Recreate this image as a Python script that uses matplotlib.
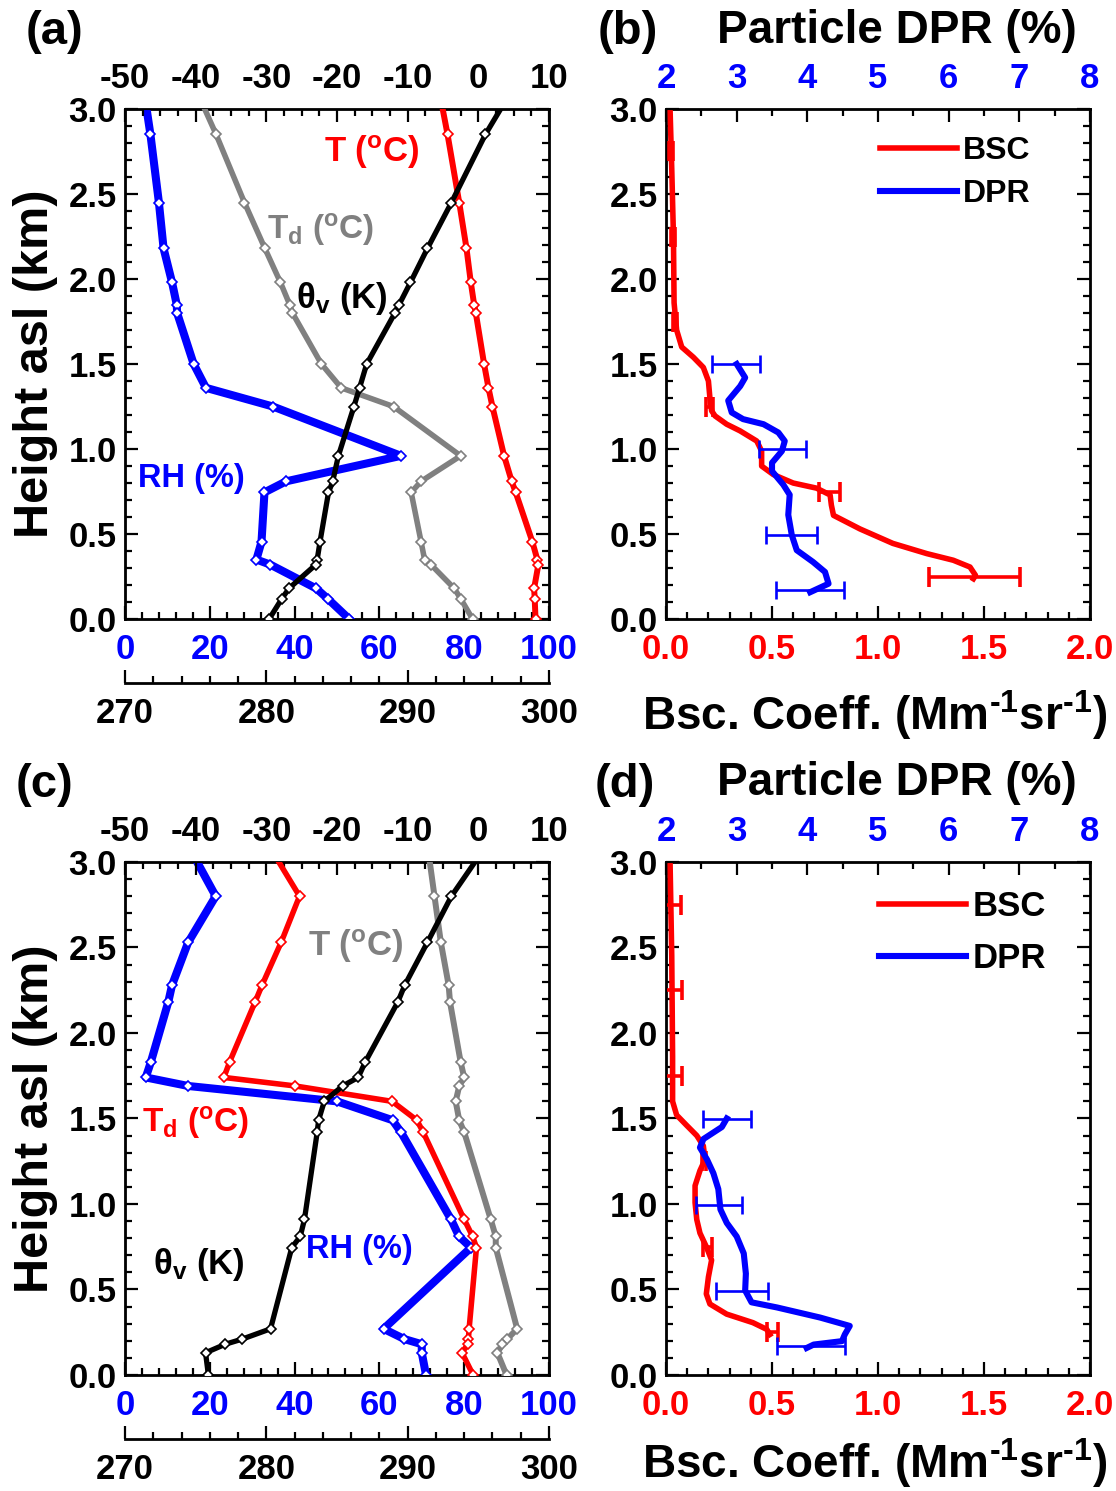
import matplotlib
matplotlib.use("Agg")
import matplotlib.pyplot as plt
from matplotlib.ticker import MultipleLocator

plt.rcParams["font.family"] = ["Liberation Sans", "DejaVu Sans"]
plt.rcParams["font.weight"] = "bold"
plt.rcParams["axes.unicode_minus"] = False
plt.rcParams["mathtext.fontset"] = "custom"
plt.rcParams["mathtext.rm"] = "Liberation Sans:bold"
plt.rcParams["mathtext.it"] = "Liberation Sans:bold:italic"
plt.rcParams["mathtext.bf"] = "Liberation Sans:bold"

RED = "#ff0000"
BLUE = "#0000ff"
GRAY = "#808080"
BLACK = "#000000"

# ---- panel (a): radiosonde profile ----
H_A = [3.1, 2.85, 2.45, 2.18, 1.98, 1.85, 1.80, 1.50, 1.36, 1.25, 0.96,
       0.81, 0.745, 0.455, 0.35, 0.32, 0.18, 0.12, 0.0]
RH_A = [4.5, 6.0, 8.0, 9.1, 11.1, 12.2, 12.3, 16.2, 19.1, 34.9, 65.1,
        38.0, 32.9, 32.2, 31.0, 34.3, 45.1, 47.8, 52.9]
TD_A = [-39.8, -37.1, -33.1, -30.2, -28.0, -26.7, -26.3, -22.2, -19.4, -12.0, -2.5,
        -8.1, -9.5, -8.1, -7.6, -6.7, -3.4, -2.5, -0.8]
T_A = [-5.5, -4.35, -2.7, -1.67, -1.06, -0.59, -0.35, 0.82, 1.44, 2.0, 3.65,
       4.73, 5.29, 7.65, 8.35, 8.5, 7.9, 7.98, 8.1]
THV_A = [297.3, 295.5, 293.1, 291.4, 290.2, 289.4, 289.1, 287.1, 286.6, 286.2, 285.1,
         284.7, 284.4, 283.8, 283.6, 283.5, 281.6, 281.1, 280.2]

# ---- panel (c): radiosonde profile ----
H_C = [3.1, 2.80, 2.53, 2.28, 2.18, 1.83, 1.74, 1.69, 1.60, 1.49, 1.42,
       0.91, 0.81, 0.745, 0.27, 0.21, 0.18, 0.13, 0.0]
RH_C = [14.8, 21.4, 14.9, 11.1, 10.2, 6.1, 4.9, 14.9, 50.0, 63.1, 65.1,
        76.9, 78.8, 81.6, 61.0, 65.9, 70.0, 70.0, 71.0]
TD_C = [-29.7, -25.3, -27.9, -30.6, -31.6, -35.2, -36.0, -25.9, -12.2, -8.7, -7.8,
        -2.0, -0.8, -0.26, -1.3, -1.4, -1.5, -2.3, -0.73]
T_C = [-7.2, -6.2, -5.3, -4.2, -4.0, -2.5, -2.0, -2.7, -3.2, -2.7, -2.0,
       1.76, 2.47, 2.47, 5.5, 4.1, 3.4, 2.7, 4.0]
THV_C = [295.6, 293.1, 291.4, 289.8, 289.3, 287.0, 286.5, 285.4, 284.1, 283.7, 283.6,
         282.7, 282.4, 281.8, 280.3, 278.3, 277.1, 275.7, 275.9]

# ---- panel (b): lidar ----
BSC_B_H = [3.0, 2.65, 2.25, 1.86, 1.70, 1.60, 1.54, 1.48, 1.40, 1.30, 1.225, 1.195,
           1.146, 1.107, 1.047, 0.988, 0.90, 0.85, 0.80, 0.77, 0.73, 0.67, 0.61,
           0.53, 0.445, 0.385, 0.346, 0.306, 0.257, 0.237]
BSC_B = [0.019, 0.027, 0.035, 0.038, 0.05, 0.074, 0.129, 0.176, 0.2, 0.207, 0.215, 0.231,
         0.286, 0.349, 0.428, 0.451, 0.451, 0.506, 0.6, 0.71, 0.774, 0.78, 0.79,
         0.915, 1.07, 1.23, 1.355, 1.434, 1.46, 1.45]
BSC_ERR_B_H = [2.75, 2.25, 1.75, 1.25, 0.75, 0.25]
BSC_ERR_B_X = [0.025, 0.034, 0.042, 0.205, 0.77, 1.457]
BSC_ERR_B = [0.01, 0.01, 0.01, 0.017, 0.05, 0.215]

DPR_B_H = [1.50, 1.42, 1.37, 1.285, 1.215, 1.176, 1.146, 1.097, 1.047, 0.988, 0.919,
           0.87, 0.79, 0.731, 0.613, 0.494, 0.405, 0.336, 0.277, 0.208, 0.158]
DPR_B = [3.0, 3.12, 3.05, 2.88, 2.93, 3.09, 3.38, 3.59, 3.68, 3.64, 3.50,
         3.50, 3.66, 3.75, 3.73, 3.78, 3.85, 4.08, 4.25, 4.30, 4.04]
DPR_ERR_B_H = [1.50, 1.0, 0.494, 0.168]
DPR_ERR_B_X = [2.99, 3.65, 3.77, 4.04]
DPR_ERR_B = [0.34, 0.33, 0.36, 0.48]

# ---- panel (d): lidar ----
BSC_D_H = [3.0, 2.45, 1.86, 1.60, 1.52, 1.46, 1.40, 1.34, 1.26, 1.195, 1.107, 1.008,
           0.909, 0.83, 0.75, 0.672, 0.573, 0.474, 0.415, 0.356, 0.306, 0.267, 0.237]
BSC_D = [0.019, 0.027, 0.031, 0.031, 0.05, 0.097, 0.145, 0.176, 0.184, 0.16, 0.137, 0.137,
         0.145, 0.16, 0.19, 0.215, 0.2, 0.19, 0.207, 0.286, 0.41, 0.475, 0.49]
BSC_ERR_D_H = [2.75, 2.25, 1.75, 1.25, 0.75, 0.25]
BSC_ERR_D_X = [0.025, 0.03, 0.03, 0.18, 0.195, 0.5]
BSC_ERR_D = [0.045, 0.045, 0.045, 0.01, 0.02, 0.026]

DPR_D_H = [1.50, 1.45, 1.38, 1.33, 1.26, 1.18, 1.087, 0.968, 0.889, 0.81, 0.711,
           0.593, 0.494, 0.425, 0.395, 0.336, 0.287, 0.237, 0.198, 0.178, 0.158]
DPR_D = [2.86, 2.79, 2.53, 2.48, 2.58, 2.67, 2.74, 2.77, 2.86, 3.0, 3.1,
         3.13, 3.12, 3.21, 3.57, 4.18, 4.60, 4.53, 4.49, 4.09, 3.99]
DPR_ERR_D_H = [1.496, 0.994, 0.494, 0.168]
DPR_ERR_D_X = [2.86, 2.75, 3.08, 4.05]
DPR_ERR_D = [0.34, 0.33, 0.37, 0.48]

TICK_FS = 25
LABEL_FS = 33


def ticks(ax, axis, major, minor, **kw):
    loc = ax.xaxis if axis == "x" else ax.yaxis
    loc.set_major_locator(MultipleLocator(major))
    loc.set_minor_locator(MultipleLocator(minor))
    ax.tick_params(axis=axis, which="major", direction="in", length=9.5,
                   width=1.6, labelsize=TICK_FS, **kw)
    ax.tick_params(axis=axis, which="minor", direction="in", length=5,
                   width=1.6, **{k: v for k, v in kw.items() if k != "pad" and "label" not in k})


def frame(ax):
    for s in ax.spines.values():
        s.set_linewidth(2.0)
    ax.set_ylim(0, 3.0)
    ticks(ax, "y", 0.5, 0.1, left=True, right=True, pad=6)
    ax.yaxis.set_major_formatter(plt.FormatStrFormatter("%.1f"))
    ax.set_ylabel("Height asl (km)", fontsize=35, fontweight="bold")
    ax.yaxis.set_label_coords(-0.158, 0.5)


def profile(ax, x, h, color, lw):
    ax.plot(x, h, color=color, lw=lw, marker="D", ms=5.5, mfc="white",
            mec=color, mew=1.2, zorder=3)


def met_panel(ax, h, rh, td, t, thv, td_color, t_color, text_pos):
    frame(ax)
    ax.set_xlim(0, 100)
    ticks(ax, "x", 20, 4, bottom=True, top=False, labelcolor=BLUE, pad=10)

    ax_t = ax.twiny()
    ax_t.set_xlim(-50, 10)
    ticks(ax_t, "x", 10, 2.5, top=True, bottom=False, pad=10)

    ax_th = ax.twiny()
    ax_th.set_xlim(270, 300)
    ax_th.xaxis.set_ticks_position("bottom")
    ax_th.spines["bottom"].set_position(("outward", 46))
    for s in ["top", "left", "right"]:
        ax_th.spines[s].set_visible(False)
    ax_th.spines["bottom"].set_linewidth(2.0)
    ticks(ax_th, "x", 10, 2, bottom=True, top=False, pad=10)

    profile(ax, rh, h, BLUE, 5.8)
    profile(ax_t, td, h, td_color, 4.0)
    profile(ax_t, t, h, t_color, 4.3)
    profile(ax_th, thv, h, BLACK, 3.8)

    labels = [
        (r"T ($^{\rm o}$C)", t_color, 25),
        (r"T$_{\rm d}$ ($^{\rm o}$C)", td_color, 24),
        (r"θ$_{\rm v}$ (K)", BLACK, 25),
        ("RH (%)", BLUE, 23.5),
    ]
    for (txt, col, fs), (fx, fy) in zip(labels, text_pos):
        ax.text(fx, fy, txt, color=col, fontsize=fs, fontweight="bold",
                ha="center", va="center", transform=ax.transAxes, zorder=5)


def lidar_panel(ax, bsc_h, bsc, eb_h, eb_x, eb, dpr_h, dpr, ed_h, ed_x, ed,
                leg, bsc_label_y):
    frame(ax)
    ax.set_ylabel("")
    ax.set_xlim(0, 2.0)
    ticks(ax, "x", 0.5, 0.1, bottom=True, top=False, labelcolor=RED, pad=10)
    ax.xaxis.set_major_formatter(plt.FormatStrFormatter("%.1f"))

    ax_t = ax.twiny()
    ax_t.set_xlim(2, 8)
    ticks(ax_t, "x", 1, 0.5, top=True, bottom=False, labelcolor=BLUE, pad=10)

    l1, = ax.plot(bsc, bsc_h, color=RED, lw=4.0, label="BSC", zorder=3)
    ax.errorbar(eb_x, eb_h, xerr=eb, fmt="none", ecolor=RED, elinewidth=2.6,
                capsize=7.5, capthick=2.6, zorder=3)
    l2, = ax_t.plot(dpr, dpr_h, color=BLUE, lw=4.4, label="DPR", zorder=3)
    ax_t.errorbar(ed_x, ed_h, xerr=ed, fmt="none", ecolor=BLUE, elinewidth=1.9,
                  capsize=6.5, capthick=1.9, zorder=3)

    ax_t.set_xlabel("Particle DPR (%)", fontsize=LABEL_FS, fontweight="bold")
    ax_t.xaxis.set_label_coords(0.545, 1.13)
    ax.set_xlabel("Bsc. Coeff. (Mm$^{\\rm \u20101}$sr$^{\\rm \u20101}$)",
                  fontsize=LABEL_FS, fontweight="bold")
    ax.xaxis.set_label_coords(0.493, bsc_label_y)

    anchor, fs, hlen, lsp = leg
    ax_t.legend([l1, l2], ["BSC", "DPR"], loc="upper left", bbox_to_anchor=anchor,
                frameon=False, handlelength=hlen, handletextpad=0.2,
                labelspacing=lsp, borderaxespad=0, prop={"weight": "bold", "size": fs})


def main():
    fig = plt.figure(figsize=(11.16, 14.91), dpi=100)

    ax_a = fig.add_axes([0.1120, 0.5848, 0.3799, 0.3421])
    ax_b = fig.add_axes([0.5968, 0.5848, 0.3799, 0.3421])
    ax_c = fig.add_axes([0.1120, 0.0778, 0.3799, 0.3441])
    ax_d = fig.add_axes([0.5968, 0.0778, 0.3799, 0.3441])

    met_panel(ax_a, H_A, RH_A, TD_A, T_A, THV_A, GRAY, RED,
              [(0.583, 0.916), (0.462, 0.763), (0.512, 0.629), (0.156, 0.276)])
    met_panel(ax_c, H_C, RH_C, TD_C, T_C, THV_C, RED, GRAY,
              [(0.545, 0.836), (0.167, 0.493), (0.175, 0.215), (0.554, 0.244)])

    lidar_panel(ax_b, BSC_B_H, BSC_B, BSC_ERR_B_H, BSC_ERR_B_X, BSC_ERR_B,
                DPR_B_H, DPR_B, DPR_ERR_B_H, DPR_ERR_B_X, DPR_ERR_B,
                ((0.475, 0.972), 23, 2.4, 0.42), -0.135)
    lidar_panel(ax_d, BSC_D_H, BSC_D, BSC_ERR_D_H, BSC_ERR_D_X, BSC_ERR_D,
                DPR_D_H, DPR_D, DPR_ERR_D_H, DPR_ERR_D_X, DPR_ERR_D,
                ((0.47, 0.972), 25, 2.5, 0.55), -0.12)

    for lab, x, y in [("(a)", 0.049, 0.9785), ("(b)", 0.563, 0.9785),
                      ("(c)", 0.040, 0.4735), ("(d)", 0.560, 0.4735)]:
        fig.text(x, y, lab, fontsize=34, fontweight="bold", ha="center", va="center")

    fig.savefig("out.png", dpi=100)


if __name__ == "__main__":
    main()
